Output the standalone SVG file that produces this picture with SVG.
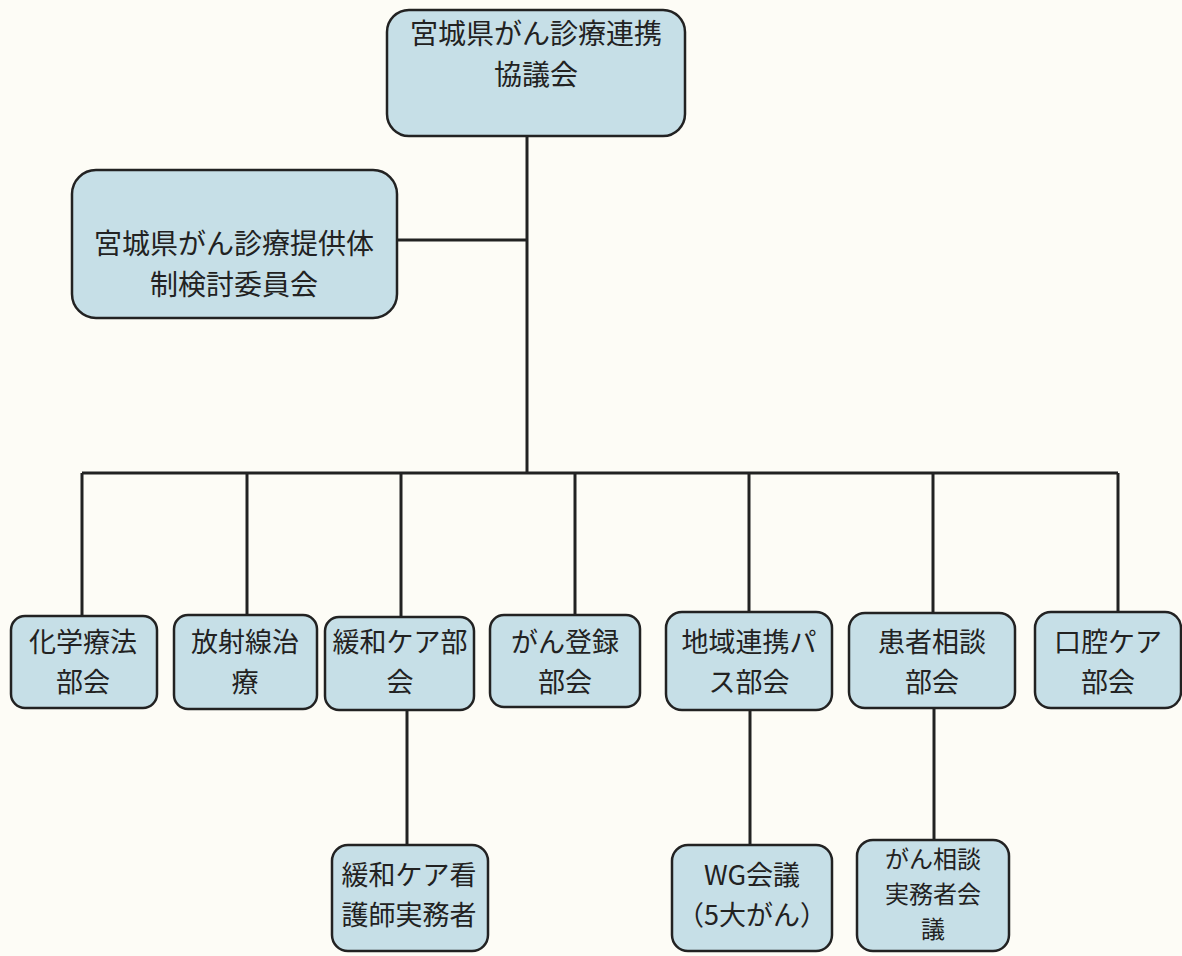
<svg xmlns="http://www.w3.org/2000/svg" width="1182" height="956" viewBox="0 0 1182 956">
<style>
.box{fill:#c6dfe7;stroke:#222;stroke-width:2.5}
.t{font-family:"Noto Sans CJK JP","Noto Sans CJK SC",sans-serif;font-size:27px;fill:#222;text-anchor:middle}
.big{font-size:28px}
.sm{font-size:24px}
.c{stroke:#222;stroke-width:3;fill:none}
</style>
<rect width="1182" height="956" fill="#fdfcf6"/>
<g id="connectors">
<path class="c" d="M527 136V473M397 240H527M82 473H1118M82 473V616M247 473V615M401 473V617M575 473V615M749 473V612M933 473V613M1118 473V612M407 710V845M750 710V845M934 708V840"/>
</g>
<g id="n_top"><rect class="box" x="387" y="10" width="298" height="126" rx="22"/>
<text class="t big"><tspan x="536" y="44">宮城県がん診療連携</tspan><tspan x="536" y="85">協議会</tspan></text></g>
<g id="n_review"><rect class="box" x="72" y="170" width="325" height="148" rx="24"/>
<text class="t big"><tspan x="234" y="254">宮城県がん診療提供体</tspan><tspan x="234" y="295">制検討委員会</tspan></text></g>
<g id="n1"><rect class="box" x="11" y="616" width="146" height="92" rx="14"/>
<text class="t"><tspan x="83" y="652">化学療法</tspan><tspan x="83" y="692">部会</tspan></text></g>
<g id="n2"><rect class="box" x="174" y="615" width="143" height="94" rx="14"/>
<text class="t"><tspan x="245" y="652">放射線治</tspan><tspan x="245" y="692">療</tspan></text></g>
<g id="n3"><rect class="box" x="325" y="617" width="149" height="93" rx="14"/>
<text class="t"><tspan x="400" y="652">緩和ケア部</tspan><tspan x="400" y="692">会</tspan></text></g>
<g id="n4"><rect class="box" x="490" y="615" width="150" height="92" rx="14"/>
<text class="t"><tspan x="565" y="652">がん登録</tspan><tspan x="565" y="692">部会</tspan></text></g>
<g id="n5"><rect class="box" x="666" y="612" width="166" height="98" rx="16"/>
<text class="t"><tspan x="749" y="652">地域連携パ</tspan><tspan x="749" y="692">ス部会</tspan></text></g>
<g id="n6"><rect class="box" x="849" y="613" width="166" height="95" rx="16"/>
<text class="t"><tspan x="932" y="652">患者相談</tspan><tspan x="932" y="692">部会</tspan></text></g>
<g id="n7"><rect class="box" x="1035" y="612" width="146" height="96" rx="16"/>
<text class="t"><tspan x="1108" y="652">口腔ケア</tspan><tspan x="1108" y="692">部会</tspan></text></g>
<g id="s1"><rect class="box" x="332" y="845" width="156" height="106" rx="16"/>
<text class="t"><tspan x="409" y="885">緩和ケア看</tspan><tspan x="409" y="925">護師実務者</tspan></text></g>
<g id="s2"><rect class="box" x="672" y="845" width="160" height="106" rx="16"/>
<text class="t"><tspan x="752" y="885">WG会議</tspan><tspan x="752" y="925">（5大がん）</tspan></text></g>
<g id="s3"><rect class="box" x="857" y="840" width="152" height="111" rx="16"/>
<text class="t sm"><tspan x="933" y="868">がん相談</tspan><tspan x="933" y="903">実務者会</tspan><tspan x="933" y="938">議</tspan></text></g>
</svg>
